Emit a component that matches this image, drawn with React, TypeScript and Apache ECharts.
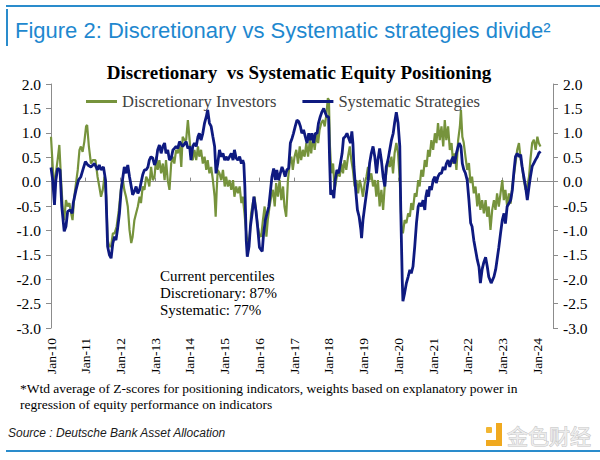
import React, { useEffect, useRef } from "react";
import * as echarts from "echarts";

const yearTicks = [2010, 2011, 2012, 2013, 2014, 2015, 2016, 2017, 2018, 2019, 2020, 2021, 2022, 2023, 2024];

const seriesNames = ["Discretionary Investors", "Systematic Strategies"];

const discDates = [
  2010.00, 2010.05, 2010.10, 2010.14, 2010.19, 2010.24, 2010.29, 2010.34, 2010.38, 2010.43, 2010.48, 2010.53, 2010.58, 2010.62, 2010.67, 2010.72, 2010.77, 2010.82, 2010.86, 2010.91, 2010.96,
  2011.01, 2011.04, 2011.09, 2011.15, 2011.20, 2011.28, 2011.34, 2011.39, 2011.44, 2011.49, 2011.54, 2011.59, 2011.63, 2011.68, 2011.73, 2011.78, 2011.83, 2011.89, 2011.95,
  2012.02, 2012.07, 2012.11, 2012.16, 2012.21, 2012.26, 2012.31, 2012.35, 2012.40, 2012.45, 2012.50, 2012.55, 2012.59, 2012.64, 2012.69, 2012.74, 2012.79, 2012.83, 2012.88, 2012.93, 2012.98,
  2013.03, 2013.07, 2013.12, 2013.17, 2013.22, 2013.27, 2013.31, 2013.36, 2013.41, 2013.46, 2013.51, 2013.55, 2013.60, 2013.65, 2013.70, 2013.75, 2013.79, 2013.84, 2013.89, 2013.94, 2013.99,
  2014.03, 2014.08, 2014.13, 2014.18, 2014.23, 2014.27, 2014.32, 2014.37, 2014.42, 2014.47, 2014.51, 2014.56, 2014.61, 2014.66, 2014.71, 2014.74, 2014.77, 2014.80, 2014.85, 2014.90, 2014.95,
  2015.00, 2015.04, 2015.09, 2015.14, 2015.19, 2015.24, 2015.28, 2015.33, 2015.38, 2015.43, 2015.48, 2015.52, 2015.57, 2015.62, 2015.67, 2015.72, 2015.76, 2015.81, 2015.86, 2015.91, 2015.96,
  2016.00, 2016.05, 2016.10, 2016.15, 2016.20, 2016.24, 2016.29, 2016.34, 2016.39, 2016.44, 2016.48, 2016.53, 2016.58, 2016.63, 2016.68, 2016.72, 2016.77, 2016.82, 2016.87, 2016.92, 2016.96,
  2017.01, 2017.06, 2017.11, 2017.16, 2017.20, 2017.25, 2017.30, 2017.35, 2017.40, 2017.45, 2017.49, 2017.54, 2017.59, 2017.64, 2017.69, 2017.73, 2017.78, 2017.83, 2017.88, 2017.93, 2017.97,
  2018.00, 2018.03, 2018.07, 2018.12, 2018.165, 2018.21, 2018.26, 2018.31, 2018.36, 2018.405, 2018.45, 2018.50, 2018.55, 2018.60, 2018.645, 2018.69, 2018.74, 2018.79, 2018.84, 2018.885, 2018.93, 2018.98,
  2019.03, 2019.08, 2019.125, 2019.17, 2019.22, 2019.27, 2019.32, 2019.365, 2019.41, 2019.46, 2019.51, 2019.56, 2019.605, 2019.65, 2019.70, 2019.75, 2019.80, 2019.845, 2019.89, 2019.94, 2019.99,
  2020.04, 2020.09, 2020.13, 2020.18, 2020.23, 2020.28, 2020.33, 2020.37, 2020.42, 2020.47, 2020.52, 2020.57, 2020.61, 2020.66, 2020.71, 2020.76, 2020.81, 2020.855, 2020.90, 2020.95,
  2021.00, 2021.05, 2021.095, 2021.14, 2021.19, 2021.24, 2021.29, 2021.335, 2021.38, 2021.43, 2021.48, 2021.53, 2021.575, 2021.62, 2021.67, 2021.72, 2021.77, 2021.80, 2021.84, 2021.88, 2021.93, 2021.98,
  2022.03, 2022.075, 2022.12, 2022.17, 2022.22, 2022.27, 2022.315, 2022.36, 2022.41, 2022.46, 2022.51, 2022.555, 2022.60, 2022.65, 2022.70, 2022.75, 2022.795, 2022.84, 2022.89, 2022.94, 2022.99,
  2023.035, 2023.08, 2023.13, 2023.18, 2023.23, 2023.275, 2023.32, 2023.37, 2023.42, 2023.47, 2023.52, 2023.56, 2023.61, 2023.66, 2023.71, 2023.76, 2023.80, 2023.85, 2023.90, 2023.95,
  2024.00, 2024.04, 2024.09,
];

const discValues = [
  0.92, 0.30, -0.17, 0.17, 0.44, 0.75, 0.03, -0.58, -0.79, -0.38, -0.51, -0.44, -0.65, -0.79, -0.31, -0.03, 0.24, 0.65, 0.72, 0.61, 0.82,
  1.13, 1.16, 0.72, 0.37, 0.44, 0.44, 0.10, -0.10, -0.31, -0.17, 0.10, -0.31, -1.20, -1.33, -1.33, -1.06, -1.06, -0.92, -0.60,
  -0.10, 0.03, -0.17, -0.31, -0.51, -0.99, -1.26, -1.13, -0.79, -0.65, -0.51, -0.31, -0.44, -0.10, -0.17, 0.10, 0.03, -0.10, 0.30, 0.03, 0.10,
  0.51, 0.24, 0.44, 0.17, 0.37, 0.03, 0.44, 0.03, -0.17, 0.37, 0.51, 0.37, 0.65, 0.58, 0.79, 0.30, 0.92, 0.85, 0.85, 1.26, 0.85,
  0.51, 0.44, 0.65, 0.44, 0.72, 0.51, 0.65, 0.37, 0.51, 0.24, 0.44, 0.17, 0.30, 0.03, -0.31, -0.72, -0.17, 0.24, 0.17, 0.03, 0.24,
  -0.10, 0.10, -0.10, 0.03, -0.17, 0.03, -0.31, -0.10, -0.24, -0.10, -0.44, -0.31, -0.65, -1.06, -1.33, -1.13, -0.65, -0.44, -0.31, -0.65, -0.95,
  -1.10, -1.13, -0.79, -0.51, -1.13, -0.79, -0.51, -0.31, -0.17, -0.51, -0.03, -0.31, 0.03, -0.38, -0.10, -0.51, -0.72, 0.03, 0.37, 0.51, 0.24,
  0.51, 0.65, 0.37, 0.72, 0.44, 0.65, 0.51, 0.79, 0.51, 0.85, 0.58, 0.92, 0.65, 0.99, 0.79, 1.06, 1.20, 1.26, 1.13, 1.40, 1.71,
  1.67, 0.72, 0.17, 0.37, -0.17, 0.03, 0.24, 0.10, 0.37, 0.17, 0.44, 0.24, 0.51, 0.72, 0.44, 0.24, -0.10, 0.03, -0.24, 0.03, -0.10, -0.31,
  -0.03, 0.10, 0.30, 0.03, 0.17, -0.10, 0.03, -0.31, 0.03, -0.51, -0.17, -0.58, -0.10, 0.17, 0.44, 0.30, 0.51, 0.17, 0.58, 0.79, 0.58,
  0.03, -0.92, -1.06, -0.79, -0.85, -0.65, -0.72, -0.44, -0.58, -0.24, -0.31, 0.03, -0.10, 0.24, 0.10, 0.44, 0.30, 0.65, 0.51, 0.85,
  0.65, 0.99, 0.79, 1.20, 0.85, 1.13, 0.72, 1.26, 0.85, 1.13, 0.65, 0.79, 0.37, 0.58, 0.24, 0.85, 1.13, 1.47, 0.92, 0.80, 0.51, 0.24,
  0.38, -0.03, 0.10, -0.24, -0.10, -0.51, -0.24, -0.58, -0.38, -0.65, -0.38, -0.72, -0.51, -0.99, -0.58, -0.38, -0.58, -0.24, -0.51, -0.24, 0.03,
  -0.38, -0.17, -0.51, -0.24, -0.45, -0.10, 0.10, 0.38, 0.65, 0.79, 0.45, 0.31, 0.03, -0.17, -0.10, 0.10, 0.45, 0.79, 0.86, 0.65,
  0.92, 0.79, 0.72,
];

const sysDates = [
  2010.00, 2010.05, 2010.10, 2010.14, 2010.19, 2010.26, 2010.31, 2010.38, 2010.43, 2010.48, 2010.55, 2010.61, 2010.64, 2010.72, 2010.79, 2010.86, 2010.93, 2010.99,
  2011.06, 2011.15, 2011.25, 2011.34, 2011.39, 2011.44, 2011.51, 2011.57, 2011.60, 2011.63, 2011.68, 2011.73, 2011.78, 2011.83, 2011.87, 2011.92, 2011.97,
  2012.02, 2012.07, 2012.11, 2012.16, 2012.21, 2012.26, 2012.31, 2012.35, 2012.40, 2012.45, 2012.50, 2012.55, 2012.59, 2012.64, 2012.69, 2012.74, 2012.79, 2012.83, 2012.88, 2012.93, 2012.98,
  2013.03, 2013.07, 2013.12, 2013.17, 2013.22, 2013.27, 2013.31, 2013.36, 2013.41, 2013.46, 2013.51, 2013.55, 2013.60, 2013.65, 2013.70, 2013.79, 2013.89, 2013.94, 2013.99,
  2014.03, 2014.08, 2014.13, 2014.18, 2014.23, 2014.27, 2014.32, 2014.37, 2014.42, 2014.47, 2014.51, 2014.56, 2014.61, 2014.66, 2014.71, 2014.75, 2014.80, 2014.85, 2014.90, 2014.95,
  2015.00, 2015.04, 2015.09, 2015.14, 2015.19, 2015.24, 2015.28, 2015.33, 2015.38, 2015.43, 2015.48, 2015.52, 2015.55, 2015.58, 2015.62, 2015.65, 2015.70, 2015.74, 2015.79, 2015.84, 2015.90, 2015.95,
  2016.00, 2016.05, 2016.08, 2016.12, 2016.17, 2016.22, 2016.27, 2016.31, 2016.36, 2016.41, 2016.46, 2016.50, 2016.55, 2016.60, 2016.65, 2016.70, 2016.74, 2016.79, 2016.84, 2016.89, 2016.94, 2016.98,
  2017.03, 2017.08, 2017.13, 2017.18, 2017.22, 2017.27, 2017.32, 2017.37, 2017.42, 2017.46, 2017.51, 2017.56, 2017.61, 2017.66, 2017.70, 2017.75, 2017.80, 2017.85, 2017.90, 2017.94, 2017.99,
  2018.02, 2018.05, 2018.10, 2018.14, 2018.18, 2018.23, 2018.28, 2018.33, 2018.38, 2018.42, 2018.47, 2018.52, 2018.57, 2018.62, 2018.66, 2018.69, 2018.72, 2018.77, 2018.82, 2018.87, 2018.92, 2018.94, 2018.98,
  2019.03, 2019.08, 2019.13, 2019.17, 2019.22, 2019.27, 2019.32, 2019.37, 2019.41, 2019.46, 2019.51, 2019.56, 2019.61, 2019.65, 2019.70, 2019.75, 2019.80, 2019.85, 2019.89, 2019.94, 2019.99,
  2020.04, 2020.07, 2020.11, 2020.13, 2020.18, 2020.23, 2020.28, 2020.33, 2020.37, 2020.42, 2020.47, 2020.52, 2020.57, 2020.61, 2020.66, 2020.71, 2020.76, 2020.79, 2020.83, 2020.87, 2020.90, 2020.95,
  2021.00, 2021.05, 2021.09, 2021.14, 2021.19, 2021.24, 2021.29, 2021.34, 2021.38, 2021.43, 2021.48, 2021.53, 2021.58, 2021.62, 2021.67, 2021.72, 2021.75, 2021.80, 2021.84, 2021.88, 2021.93, 2021.98,
  2022.03, 2022.08, 2022.12, 2022.17, 2022.22, 2022.27, 2022.32, 2022.36, 2022.41, 2022.46, 2022.51, 2022.56, 2022.60, 2022.67, 2022.75, 2022.80, 2022.84, 2022.89, 2022.94, 2022.99,
  2023.04, 2023.08, 2023.13, 2023.18, 2023.23, 2023.28, 2023.32, 2023.37, 2023.42, 2023.47, 2023.52, 2023.56, 2023.61, 2023.66, 2023.71, 2023.76, 2023.80, 2023.85, 2023.90, 2023.95,
  2024.00, 2024.04, 2024.09,
];

const sysValues = [
  0.29, 0.03, -0.48, 0.03, 0.27, 0.24, -0.51, -1.02, -0.92, -0.61, -0.58, -0.65, -0.44, -0.17, 0.03, 0.10, 0.27, 0.41,
  0.34, 0.30, 0.37, 0.24, 0.34, 0.24, 0.30, 0.03, -0.65, -1.33, -1.50, -1.57, -1.26, -1.13, -1.20, -0.95, -0.65,
  -0.17, 0.10, 0.30, 0.17, 0.34, 0.10, -0.10, -0.27, -0.20, -0.10, -0.24, -0.17, -0.03, 0.14, 0.24, 0.24, 0.30, 0.44, 0.51, 0.48, 0.34,
  0.44, 0.65, 0.75, 0.58, 0.72, 0.79, 0.58, 0.65, 0.44, 0.48, 0.65, 0.68, 0.72, 0.68, 0.82, 0.72, 0.82, 0.68, 0.72,
  0.44, 0.72, 0.79, 0.72, 0.92, 0.99, 0.85, 0.99, 1.20, 1.33, 1.47, 1.20, 1.13, 0.92, 0.72, 0.17, 0.37, 0.65, 0.51, 0.58,
  0.44, 0.51, 0.44, 0.51, 0.58, 0.44, 0.65, 0.48, 0.44, 0.51, 0.37, 0.44, 0.37, -0.10, -1.20, -1.54, -1.33, -0.92, -0.65, -0.31, -0.60, -0.95,
  -1.35, -1.40, -1.43, -1.06, -0.79, -0.65, -0.51, -0.24, 0.10, 0.27, 0.03, 0.24, 0.03, 0.17, 0.30, 0.20, 0.10, 0.24, 0.27, 0.79, 0.89, 0.99,
  1.13, 1.26, 1.23, 1.13, 0.99, 1.06, 0.92, 0.79, 0.99, 0.85, 0.99, 0.79, 0.99, 0.99, 1.20, 1.33, 1.43, 1.50, 1.40, 1.33, 1.33,
  0.44, -0.27, -0.17, -0.34, 0.03, 0.24, 0.17, 0.37, 0.58, 0.89, 0.92, 0.99, 0.89, 0.79, 1.03, 0.79, 0.30, -0.17, -0.58, -0.72, -0.99, -1.16, -0.79,
  -0.51, -0.24, 0.03, 0.37, 0.58, 0.72, 0.51, 0.17, 0.44, 0.68, 0.44, 0.10, -0.10, 0.30, 0.44, 0.65, 0.85, 0.99, 1.20, 1.42, 1.20,
  0.72, -0.65, -2.00, -2.45, -2.28, -2.08, -1.95, -1.81, -1.88, -1.74, -1.33, -0.85, -0.51, -0.44, -0.51, -0.38, -0.58, -0.31, -0.17, -0.31, -0.10, -0.17,
  0.03, 0.10, -0.03, 0.10, 0.17, 0.17, 0.30, 0.24, 0.37, 0.44, 0.30, 0.44, 0.51, 0.37, 0.58, 0.72, 0.79, 0.72, 0.37, 0.25, 0.17, 0.03,
  -0.38, -0.85, -0.92, -1.20, -1.40, -1.60, -1.75, -2.08, -1.80, -1.65, -1.55, -1.75, -1.95, -2.08, -1.95, -1.80, -1.60, -1.35, -1.06, -0.79,
  -0.65, -0.86, -0.51, -0.45, -0.38, -0.17, 0.17, 0.51, 0.58, 0.51, 0.55, 0.31, 0.10, -0.10, -0.38, -0.10, 0.10, 0.31, 0.38, 0.45,
  0.51, 0.58, 0.62,
];

const figureTitle = "Figure 2: Discretionary vs Systematic strategies divide\u00B2";
const chartTitle = "Discretionary  vs Systematic Equity Positioning";
const noteLines = ["Current percentiles", "Discretionary: 87%", "Systematic: 77%"];
const footLines = [
  "*Wtd average of Z-scores for positioning indicators, weights based on explanatory power in",
  "regression of equity performance on indicators",
];
const sourceText = "Source : Deutsche Bank Asset Allocation";
const watermarkText = "金色财经";

export default function App() {
  const ref = useRef<HTMLDivElement>(null);

  useEffect(() => {
    if (!ref.current) return;
    const chart = echarts.init(ref.current, null, { renderer: "svg" });
    const serif = '"Liberation Serif", "Times New Roman", serif';
    const sans = '"Liberation Sans", Arial, sans-serif';
    const axisGray = "#8c8c8c";
    const blue = "#1e88cf";

    const yAxisCommon = (pos: "left" | "right") => ({
      type: "value",
      position: pos,
      min: -3,
      max: 2,
      interval: 0.5,
      axisLine: { show: true, lineStyle: { color: axisGray, width: 1 } },
      axisTick: { show: true, length: 5, lineStyle: { color: axisGray } },
      axisLabel: {
        show: true,
        margin: 10,
        formatter: (v: number) => v.toFixed(1),
        fontFamily: serif,
        fontSize: 15.5,
        color: "#000",
      },
      splitLine: { show: false },
    });

    const option: any = {
      animation: false,
      backgroundColor: "#fff",
      grid: { left: 51, right: 47, top: 84, bottom: 132, containLabel: false },
      legend: {
        data: seriesNames,
        left: 81,
        top: 88,
        icon: "rect",
        itemWidth: 31,
        itemHeight: 3,
        itemGap: 26,
        textStyle: { fontFamily: serif, fontSize: 16.5, color: "#404040" },
      },
      xAxis: [
        {
          type: "value",
          min: 2010,
          max: 2024.45,
          interval: 1,
          position: "bottom",
          axisLine: { show: true, onZero: true, lineStyle: { color: axisGray, width: 1 } },
          axisTick: { show: true, inside: true, length: 4, customValues: yearTicks, lineStyle: { color: axisGray } },
          axisLabel: { show: false },
          splitLine: { show: false },
        },
        {
          type: "value",
          min: 2010,
          max: 2024.45,
          interval: 1,
          position: "bottom",
          axisLine: { show: false, onZero: false },
          axisTick: { show: false },
          axisLabel: {
            show: true,
            rotate: 90,
            margin: 10,
            customValues: yearTicks,
            formatter: (v: number) => "Jan-" + String(Math.round(v) % 100).padStart(2, "0"),
            fontFamily: serif,
            fontSize: 13.5,
            color: "#000",
          },
          splitLine: { show: false },
        },
      ],
      yAxis: [yAxisCommon("left"), yAxisCommon("right")],
      series: [
        {
          name: seriesNames[0],
          type: "line",
          xAxisIndex: 0,
          yAxisIndex: 0,
          showSymbol: false,
          symbol: "none",
          data: discDates.map((d, i) => [d, discValues[i]]),
          lineStyle: { color: "#76933c", width: 2.2 },
          itemStyle: { color: "#76933c" },
          z: 2,
        },
        {
          name: seriesNames[1],
          type: "line",
          xAxisIndex: 0,
          yAxisIndex: 0,
          showSymbol: false,
          symbol: "none",
          data: sysDates.map((d, i) => [d, sysValues[i]]),
          lineStyle: { color: "#0e1a80", width: 2.8 },
          itemStyle: { color: "#0e1a80" },
          z: 3,
        },
      ],
      graphic: [
        { type: "rect", shape: { x: 6, y: 5, width: 594, height: 2 }, style: { fill: "#2a8ccc" }, silent: true },
        { type: "rect", shape: { x: 6, y: 9, width: 2, height: 37 }, style: { fill: "#2a8ccc" }, silent: true },
        { type: "rect", shape: { x: 6, y: 450, width: 594, height: 2 }, style: { fill: "#2a8ccc" }, silent: true },
        {
          type: "text",
          x: 15,
          y: 30,
          style: { text: figureTitle, font: `22px ${sans}`, fill: blue, textAlign: "left", textVerticalAlign: "middle" },
          silent: true,
        },
        {
          type: "text",
          x: 299,
          y: 72,
          style: { text: chartTitle, font: `bold 19px ${serif}`, fill: "#000", textAlign: "center", textVerticalAlign: "middle" },
          silent: true,
        },
        ...noteLines.map((t, i) => ({
          type: "text",
          x: 160,
          y: 276 + i * 17,
          style: { text: t, font: `15px ${serif}`, fill: "#000", textAlign: "left", textVerticalAlign: "middle" },
          silent: true,
        })),
        ...footLines.map((t, i) => ({
          type: "text",
          x: 20,
          y: 388 + i * 16,
          style: { text: t, font: `13.5px ${serif}`, fill: "#000", textAlign: "left", textVerticalAlign: "middle" },
          silent: true,
        })),
        {
          type: "text",
          x: 8,
          y: 433,
          style: { text: sourceText, font: `italic 12px ${sans}`, fill: "#1a1a1a", textAlign: "left", textVerticalAlign: "middle" },
          silent: true,
        },
        { type: "rect", shape: { x: 486, y: 427, width: 6, height: 6, r: 1 }, style: { fill: "#f2b632" }, silent: true },
        {
          type: "polygon",
          shape: { points: [[496, 423], [502, 423], [502, 446], [486, 446], [486, 440], [496, 440]] },
          style: { fill: "#f0a91f" },
          silent: true,
        },
        {
          type: "text",
          x: 507,
          y: 435,
          style: {
            text: watermarkText,
            font: `21px "Noto Sans CJK SC", sans-serif`,
            fill: "#ececec",
            stroke: "#c4c4c4",
            lineWidth: 1,
            textAlign: "left",
            textVerticalAlign: "middle",
          },
          silent: true,
        },
      ],
    };

    chart.setOption(option);
    return () => chart.dispose();
  }, []);

  return (
    <div
      ref={ref}
      style={{ position: "absolute", left: 0, top: 0, width: 600, height: 460, background: "#fff" }}
    />
  );
}
